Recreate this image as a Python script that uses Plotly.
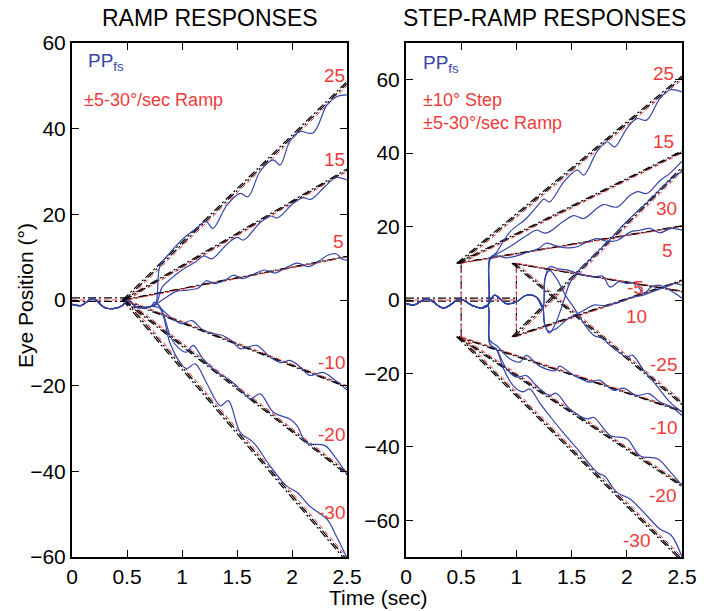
import plotly.graph_objects as go

T_END = 2.5
RED = "#ee3b3b"
BLUE = "#3545a8"
FONT = "Liberation Sans, Arial, sans-serif"

# ---------------- Left panel: ramp responses ----------------
L_vel = [25, 15, 5, -10, -20, -30]
L_t0 = [0.5, 0.5, 0.5, 0.5, 0.5, 0.5]
L_y0 = [0, 0, 0, 0, 0, 0]
L_lab = ["25", "15", "5", "-10", "-20", "-30"]
L_lab_x = [2.39, 2.39, 2.42, 2.36, 2.36, 2.36]
L_lab_y = [52.5, 32.8, 13.6, -14.5, -31.4, -49.6]

L_base_t = [0, 0.08, 0.19, 0.3, 0.4, 0.46, 0.51, 0.58, 0.65, 0.72]
L_base_y = [-1, -1.3, 0.3, -1.8, -1.9, -1.2, 0, -1.6, -1.8, -1.5]
L_eye_t = [
    [0.76, 0.8, 0.89, 1.01, 1.12, 1.22, 1.28, 1.41, 1.53, 1.6, 1.71, 1.83, 1.89, 1.98, 2.07, 2.19, 2.32, 2.41, 2.5],
    [0.77, 0.82, 0.9, 1.0, 1.13, 1.2, 1.27, 1.4, 1.5, 1.56, 1.7, 1.8, 1.87, 2.0, 2.1, 2.17, 2.3, 2.4, 2.5],
    [0.76, 0.85, 0.95, 1.05, 1.15, 1.22, 1.3, 1.4, 1.47, 1.55, 1.65, 1.75, 1.85, 1.95, 2.05, 2.15, 2.25, 2.33, 2.4, 2.46, 2.5],
    [0.75, 0.83, 0.92, 1.0, 1.09, 1.19, 1.28, 1.37, 1.45, 1.53, 1.6, 1.68, 1.8, 1.9, 1.98, 2.07, 2.16, 2.28, 2.38, 2.5],
    [0.78, 0.84, 0.89, 0.94, 1.04, 1.1, 1.19, 1.32, 1.44, 1.55, 1.62, 1.71, 1.83, 1.98, 2.05, 2.13, 2.3, 2.4, 2.5],
    [0.8, 0.89, 0.98, 1.04, 1.12, 1.22, 1.35, 1.42, 1.53, 1.65, 1.8, 1.95, 2.05, 2.16, 2.32, 2.4, 2.5],
]
L_eye_y = [
    [-1, 8, 11, 14.3, 16.5, 18.3, 16.7, 22.2, 24.9, 24.1, 30, 32.7, 31.5, 37, 39.3, 39.0, 45.6, 47.5, 47.9],
    [-0.5, 3, 5, 7, 9, 10.3, 9.6, 12.8, 14.6, 14, 17.8, 19.6, 19.2, 22.3, 23.9, 23.5, 26.5, 28.6, 28],
    [-1, 0.5, 2, 2.3, 2.8, 4.5, 3.8, 4.8, 5.8, 5, 6, 7, 6.3, 7.6, 8.6, 7.8, 9.2, 10.5, 10.8, 9.5, 9.3],
    [-0.5, -2.5, -4.5, -5.5, -4.8, -7, -7.8, -8.3, -9.5, -11.4, -11, -10.6, -13.3, -14.6, -14.1, -15.5, -17.6, -16.9, -18.5, -21],
    [-1, -4, -8.2, -10.4, -12.2, -10.6, -13.7, -16.9, -18.8, -21.5, -23.1, -21.9, -26.2, -27.8, -29.5, -33.3, -34, -37, -40.7],
    [-2, -10, -14.5, -16, -14.9, -19.2, -24.7, -23.5, -30.9, -33.3, -38.7, -43.4, -45, -48.1, -51.2, -55, -60.2],
]

# ---------------- Right panel: step-ramp responses ----------------
R_vel = [25, 15, 5, -10, -20, -30, -5, -25, 30, 10]
R_t0 = [0.5, 0.5, 0.5, 0.5, 0.5, 0.5, 1.0, 1.0, 1.0, 1.0]
R_y0 = [10, 10, 10, -10, -10, -10, 10, 10, -10, -10]
R_lab = ["25", "15", "5", "-10", "-20", "-30", "-5", "-25", "30", "10"]
R_lab_x = [2.33, 2.33, 2.37, 2.33, 2.32, 2.09, 2.08, 2.33, 2.36, 2.09]
R_lab_y = [61.8, 43.1, 13.6, -34.6, -53.2, -65.5, 3.5, -17.7, 24.8, -4.6]
R_step_t = [0.5, 1.0]

R_base_t = [0, 0.08, 0.19, 0.34, 0.49, 0.6, 0.68, 0.74]
R_base_y = [-1, -1.3, 0.4, -2.2, 0.2, -1.5, -2.2, -1.5]
R_base2_t = [0.8, 0.91, 1.0, 1.09, 1.18, 1.24]
R_base2_y = [1.3, -1, -0.5, 1.3, 0.8, -2.2]
R_eye_t = [
    [0.76, 0.82, 0.94, 1.09, 1.21, 1.25, 1.3, 1.43, 1.55, 1.61, 1.73, 1.82, 1.89, 2.0, 2.09, 2.18, 2.3, 2.39, 2.5],
    [0.76, 0.82, 0.94, 1.09, 1.18, 1.27, 1.43, 1.52, 1.61, 1.73, 1.79, 1.91, 2.03, 2.1, 2.18, 2.3, 2.39, 2.5],
    [0.76, 0.82, 0.9, 1.0, 1.1, 1.2, 1.27, 1.35, 1.45, 1.55, 1.65, 1.73, 1.82, 1.91, 2.03, 2.12, 2.21, 2.3, 2.4, 2.5],
    [0.76, 0.82, 0.94, 1.03, 1.09, 1.21, 1.36, 1.39, 1.52, 1.67, 1.75, 1.88, 1.97, 2.09, 2.2, 2.3, 2.4, 2.5],
    [0.76, 0.82, 0.91, 1.0, 1.09, 1.18, 1.3, 1.36, 1.48, 1.64, 1.7, 1.85, 2.0, 2.12, 2.28, 2.4, 2.5],
    [0.76, 0.82, 0.88, 0.97, 1.06, 1.12, 1.21, 1.3, 1.42, 1.55, 1.73, 1.8, 1.91, 2.03, 2.18, 2.3, 2.4, 2.5],
    [1.26, 1.3, 1.38, 1.48, 1.58, 1.7, 1.78, 1.85, 1.93, 2.0, 2.08, 2.15, 2.22, 2.3, 2.4, 2.5],
    [1.26, 1.3, 1.36, 1.45, 1.52, 1.58, 1.7, 1.78, 1.85, 2.0, 2.05, 2.15, 2.27, 2.39, 2.5],
    [1.26, 1.3, 1.36, 1.42, 1.49, 1.58, 1.65, 1.73, 1.85, 1.97, 2.09, 2.2, 2.33, 2.42, 2.5],
    [1.25, 1.29, 1.36, 1.45, 1.5, 1.6, 1.7, 1.8, 1.94, 2.05, 2.15, 2.25, 2.35, 2.42, 2.5],
]
R_eye_y = [
    [11, 13, 18.5, 22.2, 26.3, 27.5, 26.7, 32.2, 35.4, 34, 40.4, 43.1, 41.7, 46.7, 49.4, 49, 54.9, 57.2, 56.7],
    [11.5, 12.5, 14.5, 17.5, 19, 18.2, 21.5, 23, 22.2, 25, 26, 25.3, 28.5, 29.5, 29, 32.5, 34.5, 37.8],
    [11, 12, 11.5, 12, 13, 14, 15.5, 14.8, 14.2, 14.5, 16, 16.7, 16, 16.2, 18.5, 19, 19.5, 18.3, 19.5, 19],
    [-11, -12.4, -16, -16.9, -15.1, -18, -19.2, -18, -20.5, -22.4, -21.8, -24.6, -24, -26, -25.5, -27.8, -29, -31.5],
    [-12, -13.5, -18.7, -21, -20.6, -23.3, -26, -25.4, -29.6, -32.4, -32, -36.9, -37.8, -42.4, -43.3, -47, -50.5],
    [-12, -13.5, -18.5, -23.3, -25, -24.2, -28, -31.5, -36, -40.5, -46.9, -48, -52.4, -54.2, -58.7, -62.4, -64, -70],
    [6, 9, 8.5, 8, 7, 6.3, 6.5, 3.5, 5, 4.5, 4.7, 1.7, 3.5, 4, 2.5, 0.5],
    [6, 8, 6, 1, -2, -5, -9.6, -10.5, -12.4, -15.5, -15, -19, -23.3, -27.8, -30.5],
    [-7, -9, -6, -1, 5, 8.5, 10.5, 13, 16.5, 20.5, 24, 27, 31, 33.5, 35],
    [-6, -8.5, -7.8, -5.5, -4.5, -3, -1.4, -1.5, -0.5, 0.8, 1.3, 2.5, 3.5, 4.5, 4],
]

# black model-prediction lines lead the target slightly
BLACK_LEAD = [0.02, 0.04]

fig = go.Figure()


def line(xs, ys, color, width, dash, xa, ya, shape="linear"):
    fig.add_trace(go.Scatter(x=xs, y=ys, mode="lines", xaxis=xa, yaxis=ya,
                             line=dict(color=color, width=width, dash=dash, shape=shape),
                             showlegend=False, hoverinfo="skip"))


BLACK_DASH = "8px,3px,2px,3px"
RED_DASH = "5px,3px"


def draw_targets(vel, t0s, y0s, xa, ya):
    for v, t0, y0 in zip(vel, t0s, y0s):
        y1 = y0 + v * (T_END - t0)
        for lead in BLACK_LEAD:
            line([t0 - lead, T_END], [y0, y1 + v * lead], "black", 1.2, BLACK_DASH, xa, ya)
        line([t0, T_END], [y0, y1], RED, 1.0, RED_DASH, xa, ya)


# Left panel baselines
line([0, 0.5], [0.5, 0.5], "black", 1.2, BLACK_DASH, "x", "y")
line([0, 0.5], [-0.3, -0.3], "black", 1.2, BLACK_DASH, "x", "y")
line([0, 0.5], [0, 0], RED, 1.0, RED_DASH, "x", "y")
draw_targets(L_vel, L_t0, L_y0, "x", "y")

# Right panel baselines and steps
line([0, 1.0], [0.5, 0.5], "black", 1.2, BLACK_DASH, "x2", "y2")
line([0, 1.0], [-0.3, -0.3], "black", 1.2, BLACK_DASH, "x2", "y2")
line([0, 1.0], [0, 0], RED, 1.0, RED_DASH, "x2", "y2")
for ts in R_step_t:
    line([ts, ts], [-10, 10], "black", 1.2, BLACK_DASH, "x2", "y2")
    line([ts, ts], [-10, 10], RED, 1.0, RED_DASH, "x2", "y2")
draw_targets(R_vel, R_t0, R_y0, "x2", "y2")

# Eye traces
for ts, ys in zip(L_eye_t, L_eye_y):
    line(L_base_t + ts, L_base_y + ys, BLUE, 1.2, "solid", "x", "y", "spline")
for i, (ts, ys) in enumerate(zip(R_eye_t, R_eye_y)):
    if R_t0[i] < 1.0:
        bt, by = R_base_t, R_base_y
    else:
        bt, by = R_base_t + R_base2_t, R_base_y + R_base2_y
    line(bt + ts, by + ys, BLUE, 1.2, "solid", "x2", "y2", "spline")

ann = []
for lab, x, y in zip(L_lab, L_lab_x, L_lab_y):
    ann.append(dict(x=x, y=y, xref="x", yref="y", text=lab, showarrow=False,
                    font=dict(color=RED, size=19, family=FONT), xanchor="center", yanchor="middle"))
for lab, x, y in zip(R_lab, R_lab_x, R_lab_y):
    ann.append(dict(x=x, y=y, xref="x2", yref="y2", text=lab, showarrow=False,
                    font=dict(color=RED, size=19, family=FONT), xanchor="center", yanchor="middle"))

ann += [
    dict(x=0.125, y=55.5, xref="x", yref="y", text="PP<sub>fs</sub>", showarrow=False,
         font=dict(color=BLUE, size=19, family=FONT), xanchor="left", yanchor="middle"),
    dict(x=0.09, y=46.8, xref="x", yref="y", text="±5-30°/sec Ramp", showarrow=False,
         font=dict(color=RED, size=18, family=FONT), xanchor="left", yanchor="middle"),
    dict(x=0.14, y=64.4, xref="x2", yref="y2", text="PP<sub>fs</sub>", showarrow=False,
         font=dict(color=BLUE, size=19, family=FONT), xanchor="left", yanchor="middle"),
    dict(x=0.14, y=54.5, xref="x2", yref="y2", text="±10° Step", showarrow=False,
         font=dict(color=RED, size=18, family=FONT), xanchor="left", yanchor="middle"),
    dict(x=0.14, y=48.3, xref="x2", yref="y2", text="±5-30°/sec Ramp", showarrow=False,
         font=dict(color=RED, size=18, family=FONT), xanchor="left", yanchor="middle"),
    dict(x=209.5 / 717, y=1 - 18 / 611, xref="paper", yref="paper", text="RAMP RESPONSES",
         showarrow=False, font=dict(color="black", size=23, family=FONT), xanchor="center", yanchor="middle"),
    dict(x=544 / 717, y=1 - 18 / 611, xref="paper", yref="paper", text="STEP-RAMP RESPONSES",
         showarrow=False, font=dict(color="black", size=23, family=FONT), xanchor="center", yanchor="middle"),
    dict(x=25 / 717, y=1 - 296 / 611, xref="paper", yref="paper", text="Eye Position (°)",
         showarrow=False, textangle=-90, font=dict(color="black", size=21, family=FONT),
         xanchor="center", yanchor="middle"),
    dict(x=378 / 717, y=1 - 597 / 611, xref="paper", yref="paper", text="Time (sec)",
         showarrow=False, font=dict(color="black", size=21, family=FONT), xanchor="center", yanchor="middle"),
]

ax_common = dict(showline=True, linecolor="black", linewidth=2, mirror="ticks", ticks="inside",
                 ticklen=7, tickwidth=1.2, tickcolor="black", showgrid=False, zeroline=False,
                 automargin=False, tickfont=dict(size=21, color="black", family=FONT))

fig.update_layout(
    template="none",
    width=717, height=611,
    margin=dict(l=0, r=0, t=0, b=0, autoexpand=False),
    paper_bgcolor="white", plot_bgcolor="white",
    xaxis=dict(domain=[72 / 717, 347 / 717], range=[0, 2.5], tickvals=[0, 0.5, 1, 1.5, 2, 2.5],
               ticktext=["0", "0.5", "1", "1.5", "2", "2.5"], anchor="y", **ax_common),
    yaxis=dict(domain=[54 / 611, 568 / 611], range=[-60, 60], tickvals=[-60, -40, -20, 0, 20, 40, 60],
               anchor="x", **ax_common),
    xaxis2=dict(domain=[406 / 717, 682 / 717], range=[0, 2.5], tickvals=[0, 0.5, 1, 1.5, 2, 2.5],
                ticktext=["0", "0.5", "1", "1.5", "2", "2.5"], anchor="y2", **ax_common),
    yaxis2=dict(domain=[54 / 611, 568 / 611], range=[-70, 70], tickvals=[-60, -40, -20, 0, 20, 40, 60],
                anchor="x2", **ax_common),
    annotations=ann,
)

fig.write_html("out.html", config={"displayModeBar": False},
               post_script="document.body.style.margin='0';document.body.style.overflow='hidden';")
